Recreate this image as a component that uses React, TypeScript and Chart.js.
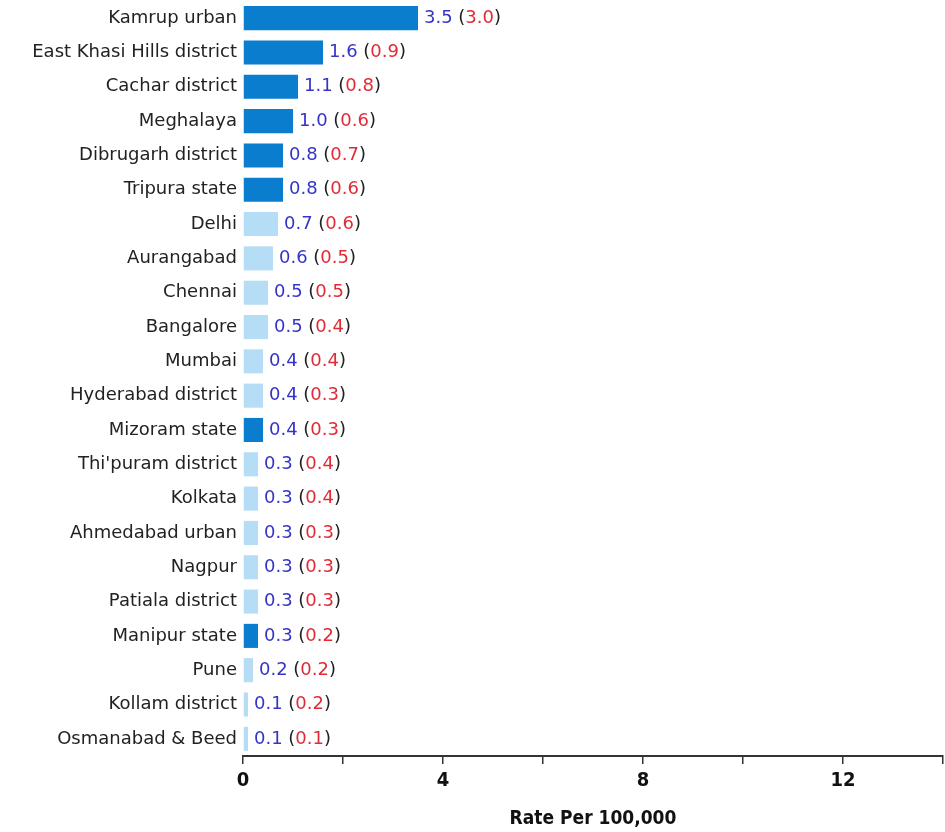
import React, { useEffect, useRef } from "react";
import { Chart, registerables } from "chart.js";

Chart.register(...registerables);

const categories = [
  "Kamrup urban", "East Khasi Hills district", "Cachar district", "Meghalaya",
  "Dibrugarh district", "Tripura state", "Delhi", "Aurangabad", "Chennai",
  "Bangalore", "Mumbai", "Hyderabad district", "Mizoram state", "Thi'puram district",
  "Kolkata", "Ahmedabad urban", "Nagpur", "Patiala district", "Manipur state",
  "Pune", "Kollam district", "Osmanabad & Beed",
];
const rates = [3.5, 1.6, 1.1, 1.0, 0.8, 0.8, 0.7, 0.6, 0.5, 0.5, 0.4, 0.4, 0.4, 0.3, 0.3, 0.3, 0.3, 0.3, 0.3, 0.2, 0.1, 0.1];
const previousRates = [3.0, 0.9, 0.8, 0.6, 0.7, 0.6, 0.6, 0.5, 0.5, 0.4, 0.4, 0.3, 0.3, 0.4, 0.4, 0.3, 0.3, 0.3, 0.2, 0.2, 0.2, 0.1];
const northEast = [true, true, true, true, true, true, false, false, false, false, false, false, true, false, false, false, false, false, true, false, false, false];
const xTickLabels = [0, 4, 8, 12];

const DARK = "#0a7dcf";
const LIGHT = "#b5ddf5";
const LABEL_FONT = "'DejaVu Sans', sans-serif";
const BOLD_FONT = "'Liberation Sans Narrow', 'DejaVu Sans Condensed', 'DejaVu Sans', sans-serif";

const valueLabels = {
  id: "valueLabels",
  afterDatasetsDraw(chart: any) {
    const ctx = chart.ctx;
    const meta = chart.getDatasetMeta(0);
    ctx.save();
    ctx.font = `18px ${LABEL_FONT}`;
    ctx.textBaseline = "middle";
    ctx.textAlign = "left";
    meta.data.forEach((bar: any, i: number) => {
      let x = bar.x + 6;
      const y = bar.y;
      const parts: [string, string][] = [
        [rates[i].toFixed(1) + " ", "#3434c8"],
        ["(", "#222222"],
        [previousRates[i].toFixed(1), "#e02b35"],
        [")", "#222222"],
      ];
      parts.forEach(([t, c]) => {
        ctx.fillStyle = c;
        ctx.fillText(t, x, y);
        x += ctx.measureText(t).width;
      });
    });
    ctx.restore();
  },
};

export default function App() {
  const ref = useRef<HTMLCanvasElement>(null);
  useEffect(() => {
    const chart = new Chart(ref.current!, {
      type: "bar",
      data: {
        labels: categories,
        datasets: [
          {
            data: rates,
            backgroundColor: northEast.map((n) => (n ? DARK : LIGHT)),
            barPercentage: 0.78,
            categoryPercentage: 0.9,
          },
        ],
      },
      options: {
        indexAxis: "y",
        animation: false,
        responsive: false,
        maintainAspectRatio: false,
        layout: { padding: { top: 1, right: 2, left: 0, bottom: 0 } },
        plugins: { legend: { display: false }, tooltip: { enabled: false } },
        scales: {
          y: {
            grid: { display: false, drawTicks: false },
            border: { display: false },
            ticks: {
              color: "#222222",
              padding: 6,
              font: { family: LABEL_FONT, size: 18 },
            },
            afterFit: (s: any) => {
              s.width = 243;
              s.paddingTop = 0;
              s.paddingBottom = 0;
            },
          },
          x: {
            min: 0,
            max: 14,
            grid: {
              drawOnChartArea: false,
              drawTicks: true,
              tickLength: 8,
              color: "#333333",
              lineWidth: 1.5,
            },
            border: { display: true, color: "#333333", width: 2 },
            ticks: {
              stepSize: 2,
              autoSkip: false,
              maxRotation: 0,
              color: "#111111",
              padding: 5,
              font: { family: BOLD_FONT, size: 20, weight: "bold" },
              callback: (v: any) => (xTickLabels.includes(Number(v)) ? String(v) : ""),
            },
            title: {
              display: true,
              text: "Rate Per 100,000",
              color: "#111111",
              font: { family: BOLD_FONT, size: 19, weight: "bold" },
              padding: { top: 10, bottom: 2 },
            },
            afterFit: (s: any) => {
              s.height = 76;
              s.paddingLeft = 0;
              s.paddingRight = 0;
            },
          },
        },
      },
      plugins: [valueLabels],
    });
    return () => chart.destroy();
  }, []);
  return (
    <div style={{ position: "fixed", left: 0, top: 0, width: 945, height: 832, background: "#fff" }}>
      <canvas ref={ref} width={945} height={832} style={{ display: "block" }} />
    </div>
  );
}
